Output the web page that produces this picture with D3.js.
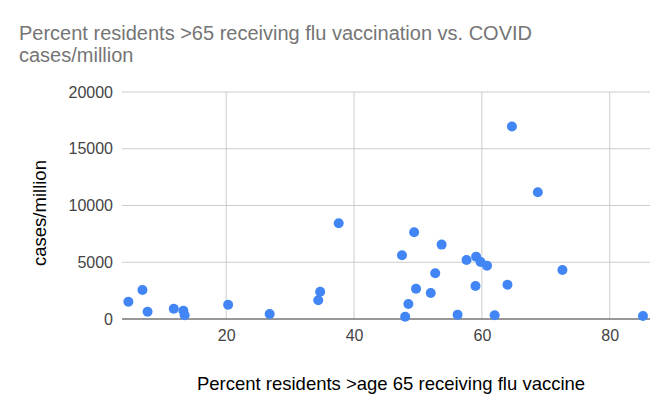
<!DOCTYPE html>
<html>
<head>
<meta charset="utf-8">
<script src="https://cdn.jsdelivr.net/npm/d3@7"></script>
<style>
  body { margin: 0; background: #fff; }
  text { font-family: Arial, "Liberation Sans", sans-serif; }
</style>
</head>
<body>
<svg id="chart" width="671" height="415"></svg>
<script>
// Percent of residents >65 receiving flu vaccine
const fluPct = [4.7, 6.9, 7.7, 11.8, 13.3, 13.5, 20.3, 26.8, 34.4, 34.7, 37.6,
    47.5, 64.7, 68.75, 49.4, 53.7, 57.6, 59.1, 59.8, 60.8, 52.7, 72.6,
    49.7, 52.0, 59.0, 64.0, 48.5, 48.0, 56.2, 62.0, 85.2];
// COVID cases per million
const casesPerMillion = [1525, 2557, 644, 908, 732, 326, 1261, 441, 1649, 2407, 8440,
    5617, 16960, 11170, 7646, 6553, 5203, 5494, 5026, 4700, 4030, 4321,
    2672, 2293, 2910, 3025, 1323, 203, 379, 326, 265];
const xTicks = [20, 40, 60, 80];
const yTicks = [0, 5000, 10000, 15000, 20000];

const data = fluPct.map((v, i) => ({ x: v, y: casesPerMillion[i] }));

const svg = d3.select("#chart");
const margin = { top: 92, right: 21, bottom: 96, left: 122 };
const width = +svg.attr("width");
const height = +svg.attr("height");

// Scales
const x = d3.scaleLinear()
    .domain([3.7, 86.3])
    .range([margin.left, width - margin.right]);
const y = d3.scaleLinear()
    .domain([0, 20000])
    .range([height - margin.bottom, margin.top]);

// Title (two lines, wrapped like the original)
svg.append("text")
    .attr("x", 19).attr("y", 40)
    .attr("font-size", "20px")
    .attr("fill", "#757575")
    .text("Percent residents >65 receiving flu vaccination vs. COVID");
svg.append("text")
    .attr("x", 19).attr("y", 62)
    .attr("font-size", "20px")
    .attr("fill", "#757575")
    .text("cases/million");

// Gridlines
svg.append("g")
    .selectAll("line")
    .data(yTicks.filter(d => d > 0))
    .enter().append("line")
    .attr("x1", margin.left).attr("x2", width - margin.right)
    .attr("y1", d => y(d)).attr("y2", d => y(d))
    .attr("stroke", "#cccccc");
svg.append("g")
    .selectAll("line")
    .data(xTicks)
    .enter().append("line")
    .attr("x1", d => x(d)).attr("x2", d => x(d))
    .attr("y1", margin.top).attr("y2", height - margin.bottom)
    .attr("stroke", "#cccccc");

// Y axis labels
svg.append("g")
    .attr("transform", `translate(${margin.left}, 0)`)
    .call(d3.axisLeft(y).tickValues(yTicks).tickSize(0).tickPadding(9).tickFormat(d3.format("d")))
    .call(g => g.select(".domain").remove())
    .selectAll("text")
    .attr("font-size", "16px")
    .attr("fill", "#444");

// X axis labels
svg.append("g")
    .attr("transform", `translate(0, ${height - margin.bottom})`)
    .call(d3.axisBottom(x).tickValues(xTicks).tickSize(0).tickPadding(11))
    .call(g => g.select(".domain").remove())
    .selectAll("text")
    .attr("font-size", "16px")
    .attr("fill", "#444");

// Baseline
svg.append("line")
    .attr("x1", margin.left).attr("x2", width - margin.right)
    .attr("y1", y(0)).attr("y2", y(0))
    .attr("stroke", "#333");

// Points
svg.selectAll(".dot")
    .data(data)
    .enter().append("circle")
    .attr("class", "dot")
    .attr("cx", d => x(d.x))
    .attr("cy", d => y(d.y))
    .attr("r", 5)
    .attr("fill", "#4285f4");

// Axis titles
svg.append("text")
    .attr("x", 391)
    .attr("y", 390)
    .attr("text-anchor", "middle")
    .attr("font-size", "18.5px")
    .attr("fill", "#000")
    .text("Percent residents >age 65 receiving flu vaccine");
svg.append("text")
    .attr("transform", "translate(46, 213) rotate(-90)")
    .attr("text-anchor", "middle")
    .attr("font-size", "18.5px")
    .attr("fill", "#000")
    .text("cases/million");
</script>
</body>
</html>
